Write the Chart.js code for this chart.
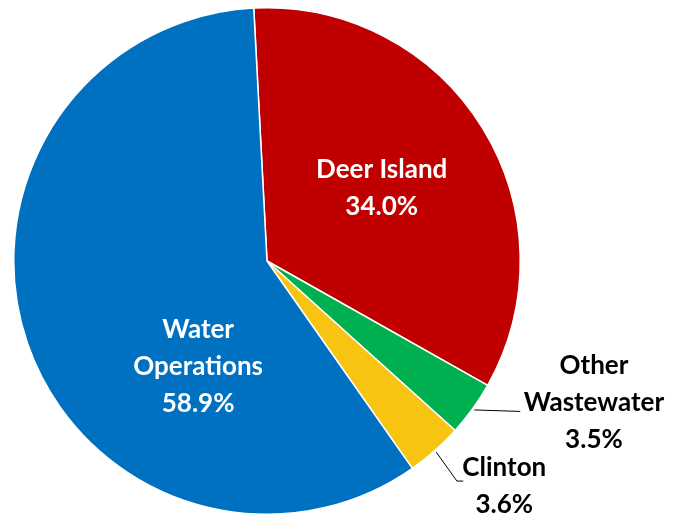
<!DOCTYPE html>
<html>
<head>
<meta charset="utf-8">
<script src="https://cdn.jsdelivr.net/npm/chart.js@4.4.0/dist/chart.umd.min.js"></script>
<style>
  html, body { margin: 0; padding: 0; background: #fff; }
  #wrap { width: 682px; height: 520px; }
</style>
</head>
<body>
<div id="wrap"><canvas id="pie" width="682" height="520"></canvas></div>
<script>
// slice order goes clockwise from the top
const categories = ['Deer Island', 'Other Wastewater', 'Clinton', 'Water Operations'];
const shares = [34.0, 3.5, 3.6, 58.9];
const sliceColors = ['#C00000', '#00B050', '#F7C412', '#0070C0'];

// label lines and anchor (relative to pie centre, in radii) + whether drawn inside
const labelLines = [['Deer Island', '34.0%'], ['Other', 'Wastewater', '3.5%'], ['Clinton', '3.6%'], ['Water', 'Operations', '58.9%']];
const labelAnchors = [
  { x: 0.453, y: -0.287, inside: true },
  { x: 1.291, y: 0.56, inside: false, elbow: { x: 1.0, y: 0.594 } },
  { x: 0.937, y: 0.89, inside: false, elbow: { x: 0.75, y: 0.869 }, tail: { x: 0.775, y: 0.869 } },
  { x: -0.272, y: 0.417, inside: true },
];

const pieLabels = {
  id: 'pieLabels',
  afterDatasetsDraw(chart) {
    const ctx = chart.ctx;
    const arcs = chart.getDatasetMeta(0).data;
    ctx.save();
    ctx.font = 'bold 26px Lato';
    ctx.textAlign = 'center';
    ctx.textBaseline = 'middle';
    arcs.forEach((arc, i) => {
      const a = labelAnchors[i];
      const r = arc.outerRadius;
      const cx = arc.x, cy = arc.y;
      const lx = cx + a.x * r, ly = cy + a.y * r;
      if (!a.inside) {
        const mid = (arc.startAngle + arc.endAngle) / 2;
        const ex = cx + Math.cos(mid) * (r + 2), ey = cy + Math.sin(mid) * (r + 2);
        ctx.strokeStyle = '#000';
        ctx.lineWidth = 1;
        ctx.beginPath();
        ctx.moveTo(ex, ey);
        ctx.lineTo(cx + a.elbow.x * r, cy + a.elbow.y * r);
        if (a.tail) ctx.lineTo(cx + a.tail.x * r, cy + a.tail.y * r);
        ctx.stroke();
      }
      ctx.fillStyle = a.inside ? '#fff' : '#000';
      const lines = labelLines[i];
      const lh = 37;
      lines.forEach((t, k) => {
        ctx.fillText(t, lx, ly + (k - (lines.length - 1) / 2) * lh);
      });
    });
    ctx.restore();
  }
};

new Chart(document.getElementById('pie').getContext('2d'), {
  type: 'pie',
  data: {
    labels: categories,
    datasets: [{
      data: shares,
      backgroundColor: sliceColors,
      borderColor: '#fff',
      borderWidth: 1.5,
    }],
  },
  options: {
    responsive: false,
    animation: false,
    rotation: -3,
    layout: { padding: { top: 7, bottom: 5, left: 13, right: 161 } },
    plugins: {
      legend: { display: false },
      tooltip: { enabled: false },
    },
  },
  plugins: [pieLabels],
});
</script>
</body>
</html>
